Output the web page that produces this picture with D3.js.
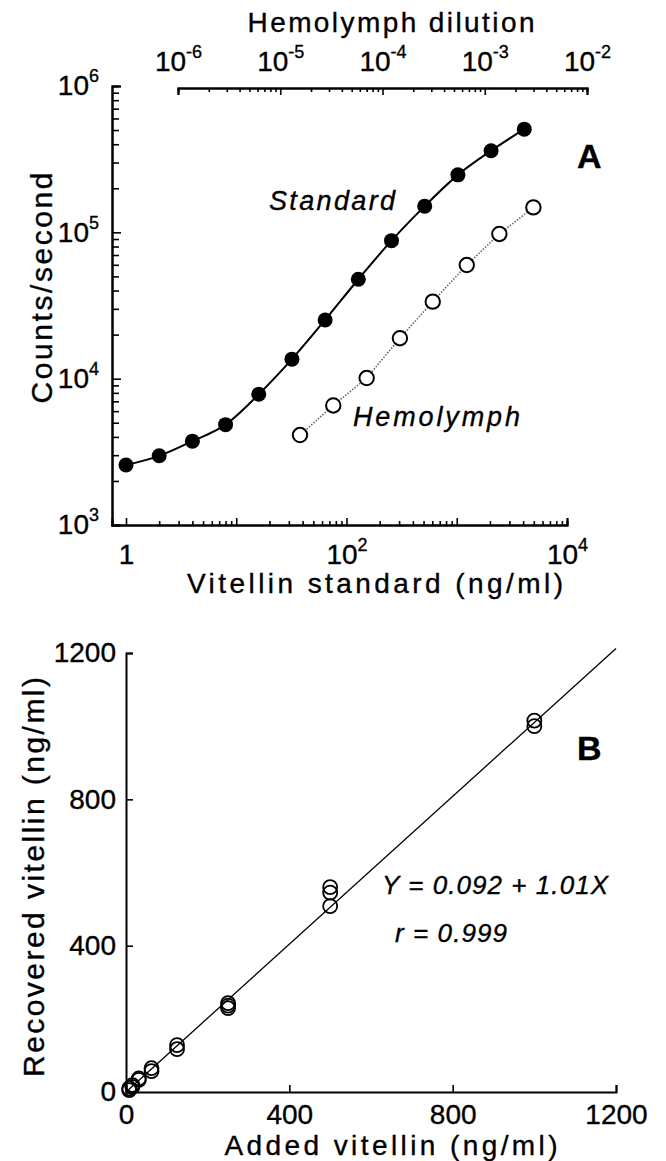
<!DOCTYPE html>
<html><head><meta charset="utf-8">
<script src="https://cdn.jsdelivr.net/npm/d3@7"></script>
<style>
body{margin:0;background:#fff}
svg{display:block}
text{font-family:"Liberation Sans",Arial,Helvetica,sans-serif;fill:#000;stroke:#000;stroke-width:0.35px}
</style>
</head><body>
<svg id="chart" width="666" height="1161"></svg>
<script>
// ---------- Panel A data ----------
const standardConc   = [1, 2, 4, 8, 16, 32, 64, 128, 256, 512, 1024, 2048, 4096];
const standardCounts = [2570, 2970, 3740, 4850, 7820, 13600, 25200, 47800, 87700, 151000, 247000, 361000, 507000];
const hemoDilution   = [1.56e-5, 3.3e-5, 7.0e-5, 1.48e-4, 3.1e-4, 6.67e-4, 1.39e-3, 2.99e-3];
const hemoCounts     = [4120, 6560, 10100, 18900, 33600, 59800, 97500, 148000];
const countTicks     = [1e3, 1e4, 1e5, 1e6];
const concMajorTicks = [1, 10, 100, 1000, 10000];
const concLabelTicks = [1, 100, 10000];
const dilutionTicks  = [1e-6, 1e-5, 1e-4, 1e-3, 1e-2];
// ---------- Panel B data ----------
const addedVit     = [7.8, 7.8, 15.6, 15.6, 31.3, 31.3, 62.5, 62.5, 125, 125, 250, 250, 250, 500, 500, 500, 1000, 1000];
const recoveredVit = [5, 10, 14, 19, 33, 37, 57, 65, 117, 128, 229, 236, 243, 508, 545, 560, 1000, 1015];
const linearTicks  = [0, 400, 800, 1200];
const fitIntercept = 0.092, fitSlope = 1.01, fitR = 0.999;

const svg = d3.select("#chart");
const FS = 28;

function minorsOf(decades){ const out=[]; decades.forEach(d=>{for(let k=2;k<=9;k++) out.push(d*k);}); return out; }

function supLabels(sel){
  sel.each(function(d){
    const t = d3.select(this);
    const e = Math.round(Math.log10(d));
    t.text(null);
    if(e===0){ t.text("1"); return; }
    t.append("tspan").text("10");
    t.append("tspan").attr("font-size", 18).attr("dy", -13).text(e<0 ? "-"+Math.abs(e) : e);
  });
}
function styleAxis(g, w){
  g.select(".domain").attr("stroke","#000").attr("stroke-width", w);
  g.selectAll(".tick line").attr("stroke","#000").attr("stroke-width",1.6);
  g.selectAll("text").attr("font-size",FS).attr("fill","#000").attr("font-family",'"Liberation Sans",Arial,sans-serif');
}

// ================= Panel A =================
const xA0 = d3.scaleLog().domain([1,1e4]).range([126,567]);
const xA  = d3.scaleLog().domain([xA0.invert(112),1e4]).range([112,567]);
const yA  = d3.scaleLog().domain([1e3,1e6]).range([525,86]);
const xTop = d3.scaleLog().domain([1e-6,1e-2]).range([178,587]);

// bottom axis
const gxA = svg.append("g").attr("transform","translate(0,525)");
gxA.append("g").call(d3.axisBottom(xA).tickValues(minorsOf([1,10,100,1000])).tickSize(-4).tickFormat(""))
   .call(g=>styleAxis(g,2));
const gxAM = gxA.append("g").call(d3.axisBottom(xA).tickValues(concMajorTicks).tickSize(-7).tickPadding(19)
   .tickFormat(d=>concLabelTicks.includes(d)?d:""));
styleAxis(gxAM,2);
gxAM.selectAll(".tick text").filter(d=>concLabelTicks.includes(d)).call(supLabels);

// left axis
const gyA = svg.append("g").attr("transform","translate(112,0)");
gyA.append("g").call(d3.axisLeft(yA).tickValues(minorsOf([1e3,1e4,1e5])).tickSize(-7).tickFormat(""))
   .call(g=>styleAxis(g,2));
const gyAM = gyA.append("g").call(d3.axisLeft(yA).tickValues(countTicks).tickSize(-9).tickPadding(13));
styleAxis(gyAM,2);
gyAM.selectAll(".tick text").call(supLabels);

// top axis
const gtA = svg.append("g").attr("transform","translate(0,88)");
gtA.append("g").call(d3.axisTop(xTop).tickValues(minorsOf([1e-6,1e-5,1e-4,1e-3])).tickSize(-4).tickFormat(""))
   .call(g=>styleAxis(g,2));
const gtAM = gtA.append("g").call(d3.axisTop(xTop).tickValues(dilutionTicks).tickSize(-7).tickPadding(17));
styleAxis(gtAM,2);
gtAM.selectAll(".tick text").call(supLabels);

// standard curve
const stdData = standardConc.map((c,i)=>({x:c,y:standardCounts[i]}));
svg.append("path").datum(stdData)
  .attr("fill","none").attr("stroke","#000").attr("stroke-width",2)
  .attr("d", d3.line().x(d=>xA(d.x)).y(d=>yA(d.y)).curve(d3.curveMonotoneX));
svg.append("g").selectAll("circle").data(stdData).join("circle")
  .attr("cx",d=>xA(d.x)).attr("cy",d=>yA(d.y)).attr("r",7.5).attr("fill","#000");

// hemolymph
const hemoData = hemoDilution.map((c,i)=>({x:c,y:hemoCounts[i]}));
svg.append("path").datum(hemoData)
  .attr("fill","none").attr("stroke","#666").attr("stroke-width",1.6).attr("stroke-dasharray","1.5,1.5")
  .attr("d", d3.line().x(d=>xTop(d.x)).y(d=>yA(d.y)));
svg.append("g").selectAll("circle").data(hemoData).join("circle")
  .attr("cx",d=>xTop(d.x)).attr("cy",d=>yA(d.y)).attr("r",7.2)
  .attr("fill","#fff").attr("stroke","#000").attr("stroke-width",2);

// texts panel A
svg.append("text").attr("x",391).attr("y",32).attr("text-anchor","middle").attr("font-size",FS)
  .attr("textLength",287).attr("lengthAdjust","spacing").text("Hemolymph dilution");
svg.append("text").attr("x",375).attr("y",593).attr("text-anchor","middle").attr("font-size",FS)
  .attr("textLength",376).attr("lengthAdjust","spacing").text("Vitellin standard (ng/ml)");
svg.append("text").attr("transform","translate(52,288) rotate(-90)").attr("text-anchor","middle").attr("font-size",FS+2)
  .attr("textLength",231).attr("lengthAdjust","spacing").text("Counts/second");
svg.append("text").attr("x",269).attr("y",210).attr("font-size",27).attr("font-style","italic")
  .attr("textLength",126).attr("lengthAdjust","spacing").text("Standard");
svg.append("text").attr("x",353).attr("y",426).attr("font-size",27).attr("font-style","italic")
  .attr("textLength",167).attr("lengthAdjust","spacing").text("Hemolymph");
svg.append("text").attr("x",577).attr("y",168).attr("font-size",34).attr("font-weight","bold").text("A");

// ================= Panel B =================
const xB = d3.scaleLinear().domain([0,1200]).range([126,616]);
const yB = d3.scaleLinear().domain([0,1200]).range([1092,653]);

const gxB = svg.append("g").attr("transform","translate(0,1092)")
  .call(d3.axisBottom(xB).tickValues(linearTicks).tickSize(-7).tickPadding(12).tickFormat(d3.format("d")));
styleAxis(gxB,2);
const gyB = svg.append("g").attr("transform","translate(126,0)")
  .call(d3.axisLeft(yB).tickValues(linearTicks).tickSize(-7).tickPadding(10).tickFormat(d3.format("d")));
styleAxis(gyB,2);

svg.append("line")
  .attr("x1",xB(0)).attr("y1",yB(fitIntercept))
  .attr("x2",xB(1200)).attr("y2",yB(fitIntercept+fitSlope*1200))
  .attr("stroke","#000").attr("stroke-width",1.3);

svg.append("g").selectAll("circle").data(addedVit.map((a,i)=>({x:a,y:recoveredVit[i]}))).join("circle")
  .attr("cx",d=>xB(d.x)).attr("cy",d=>yB(d.y)).attr("r",7)
  .attr("fill","none").attr("stroke","#000").attr("stroke-width",1.8);

svg.append("text").attr("x",391).attr("y",1155).attr("text-anchor","middle").attr("font-size",FS)
  .attr("textLength",333).attr("lengthAdjust","spacing").text("Added vitellin (ng/ml)");
svg.append("text").attr("transform","translate(44,877) rotate(-90)").attr("text-anchor","middle").attr("font-size",FS+2)
  .attr("textLength",400).attr("lengthAdjust","spacing").text("Recovered vitellin (ng/ml)");
svg.append("text").attr("x",382).attr("y",894).attr("font-size",26).attr("font-style","italic")
  .attr("textLength",226).attr("lengthAdjust","spacing")
  .text(`Y = ${fitIntercept.toFixed(3)} + ${fitSlope.toFixed(2)}X`);
svg.append("text").attr("x",395).attr("y",942).attr("font-size",26).attr("font-style","italic")
  .attr("textLength",112).attr("lengthAdjust","spacing").text(`r = ${fitR.toFixed(3)}`);
svg.append("text").attr("x",577).attr("y",760).attr("font-size",34).attr("font-weight","bold").text("B");
</script>
</body></html>
